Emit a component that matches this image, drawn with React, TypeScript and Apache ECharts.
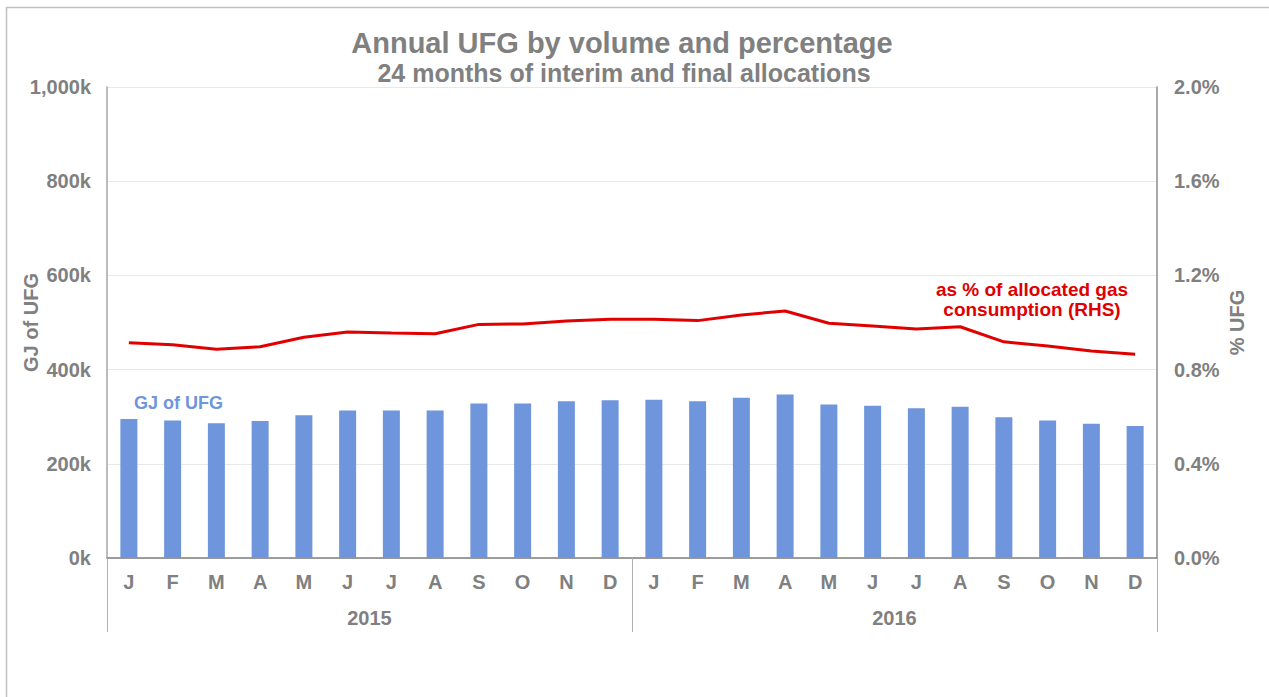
import React, { useEffect, useRef } from "react";
import * as echarts from "echarts";

const months = ["J", "F", "M", "A", "M", "J", "J", "A", "S", "O", "N", "D", "J", "F", "M", "A", "M", "J", "J", "A", "S", "O", "N", "D"];
const years = ["2015", "2016"];
const ufgVolume = [295, 292, 286, 291, 303, 313, 313, 313, 328, 328, 333, 335, 336, 333, 340, 347, 326, 323, 318, 321, 299, 292, 285, 280];
const ufgPercent = [0.914, 0.906, 0.886, 0.897, 0.937, 0.96, 0.955, 0.952, 0.992, 0.994, 1.006, 1.014, 1.014, 1.008, 1.032, 1.049, 0.997, 0.985, 0.972, 0.982, 0.918, 0.9, 0.879, 0.865];
const leftTicks = { min: 0, max: 1000, interval: 200 };
const rightTicks = { min: 0, max: 2, interval: 0.4 };

const FONT = "'Liberation Sans', Arial, sans-serif";
const GRAY = "#808080";
const BLUE = "#6f96dc";
const RED = "#e00000";

export default function App() {
  const ref = useRef<HTMLDivElement>(null);
  useEffect(() => {
    if (!ref.current) return;
    const chart = echarts.init(ref.current, null, { renderer: "svg" });
    chart.setOption({
      animation: false,
      backgroundColor: "#ffffff",
      textStyle: { fontFamily: FONT },
      grid: { left: 107, right: 112, top: 87, bottom: 139, containLabel: false, outerBoundsMode: "none" },
      graphic: [
        {
          type: "rect",
          shape: { x: 6.5, y: 7.5, width: 1300, height: 720 },
          style: { fill: "none", stroke: "#c0c0c0", lineWidth: 1.5 },
          silent: true,
        },
        {
          type: "text",
          x: 622,
          y: 43,
          style: { text: "Annual UFG by volume and percentage", fill: GRAY, font: `bold 29px ${FONT}`, textAlign: "center", textVerticalAlign: "middle" },
        },
        {
          type: "text",
          x: 624,
          y: 73,
          style: { text: "24 months of interim and final allocations", fill: GRAY, font: `bold 25px ${FONT}`, textAlign: "center", textVerticalAlign: "middle" },
        },
        {
          type: "text",
          x: 134,
          y: 403,
          style: { text: "GJ of UFG", fill: BLUE, font: `bold 18px ${FONT}`, textAlign: "left", textVerticalAlign: "middle" },
        },
        {
          type: "text",
          x: 1032,
          y: 299,
          style: { text: "as % of allocated gas\nconsumption (RHS)", fill: RED, font: `bold 19px ${FONT}`, lineHeight: 20, textAlign: "center", textVerticalAlign: "middle" },
        },
      ],
      xAxis: [
        {
          type: "category",
          data: months,
          position: "bottom",
          axisLine: { show: true, lineStyle: { color: "#7f7f7f", width: 1.5 } },
          axisTick: { show: false },
          axisLabel: { color: GRAY, fontWeight: "bold", fontSize: 20, margin: 14, fontFamily: FONT, interval: 0 },
          splitLine: { show: false },
        },
        {
          type: "category",
          data: years,
          position: "bottom",
          axisLine: { show: false },
          axisTick: { show: true, length: 74, lineStyle: { color: "#b0b0b0", width: 1 } },
          axisLabel: { color: GRAY, fontWeight: "bold", fontSize: 20, margin: 50, fontFamily: FONT },
          splitLine: { show: false },
        },
      ],
      yAxis: [
        {
          type: "value",
          min: leftTicks.min,
          max: leftTicks.max,
          interval: leftTicks.interval,
          name: "GJ of UFG",
          nameLocation: "middle",
          nameGap: 66,
          nameMoveOverlap: false,
          nameTextStyle: { color: GRAY, fontWeight: "bold", fontSize: 20, fontFamily: FONT },
          axisLine: { show: true, lineStyle: { color: "#a6a6a6", width: 1.5 } },
          axisTick: { show: false },
          axisLabel: {
            color: GRAY,
            fontWeight: "bold",
            fontSize: 20,
            margin: 16,
            fontFamily: FONT,
            formatter: (v: number) => (v >= 1000 ? "1,000k" : `${v}k`),
          },
          splitLine: { show: true, lineStyle: { color: "#e8e8e8", width: 1 } },
        },
        {
          type: "value",
          min: rightTicks.min,
          max: rightTicks.max,
          interval: rightTicks.interval,
          position: "right",
          name: "% UFG",
          nameLocation: "middle",
          nameGap: 70,
          nameMoveOverlap: false,
          nameTextStyle: { color: GRAY, fontWeight: "bold", fontSize: 20, fontFamily: FONT },
          axisLine: { show: true, lineStyle: { color: "#8c8c8c", width: 1.5 } },
          axisTick: { show: false },
          axisLabel: {
            color: GRAY,
            fontWeight: "bold",
            fontSize: 20,
            margin: 17,
            fontFamily: FONT,
            formatter: (v: number) => `${v.toFixed(1)}%`,
          },
          splitLine: { show: false },
        },
      ],
      series: [
        {
          name: "GJ of UFG",
          type: "bar",
          xAxisIndex: 0,
          yAxisIndex: 0,
          data: ufgVolume,
          barWidth: 17,
          itemStyle: { color: BLUE },
        },
        {
          name: "% UFG",
          type: "line",
          xAxisIndex: 0,
          yAxisIndex: 1,
          data: ufgPercent,
          symbol: "none",
          lineStyle: { color: RED, width: 3 },
          itemStyle: { color: RED },
        },
      ],
    });
    return () => chart.dispose();
  }, []);
  return <div ref={ref} style={{ position: "absolute", left: 0, top: 0, width: 1269, height: 697 }} />;
}
